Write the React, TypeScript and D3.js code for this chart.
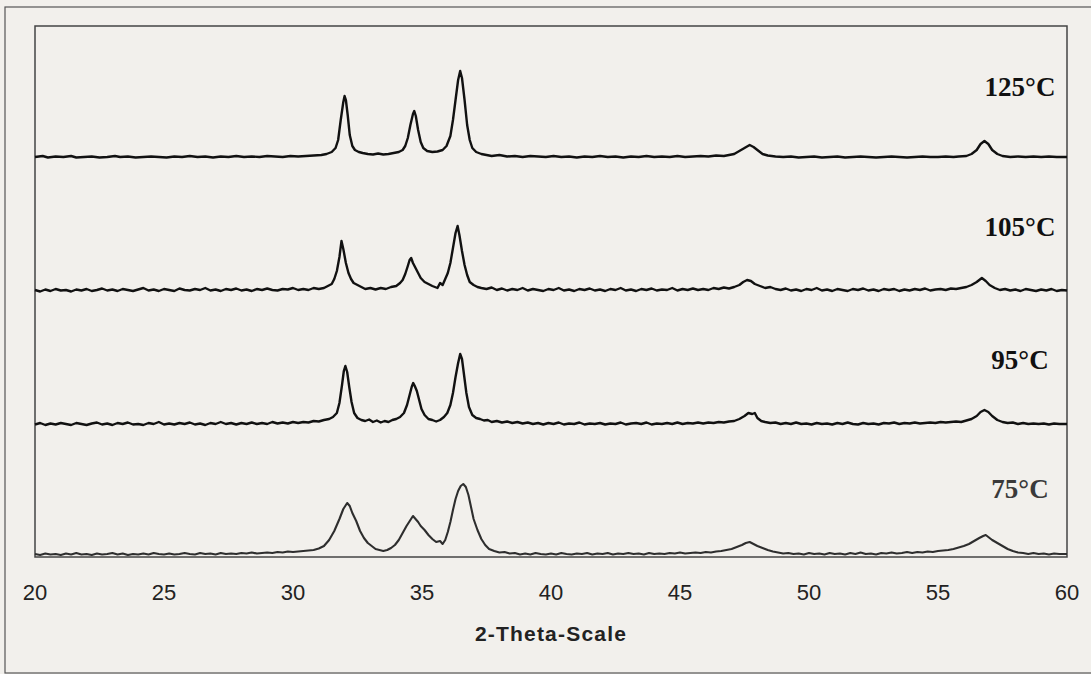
import * as d3 from 'd3';

// XRD patterns, [2-theta, intensity a.u.]
const ticks = [20, 25, 30, 35, 40, 45, 50, 55, 60];
const labels = ['125°C', '105°C', '95°C', '75°C'];
const offsets = [397, 264, 130, 0];

const s125: [number, number][] = [
  [20, 3], [20.3, 4], [20.5, 2.5], [20.8, 3.5], [21.1, 3], [21.4, 4], [21.6, 2.5], [21.9, 3], [22.2, 3.5], [22.5, 2.5],
  [22.8, 3], [23.1, 4], [23.3, 3], [23.6, 3.5], [23.9, 2.5], [24.2, 3], [24.5, 3.5], [24.8, 3], [25.1, 2.5], [25.4, 3.5],
  [25.7, 3], [26, 4], [26.3, 3], [26.6, 3.5], [26.9, 2.5], [27.2, 3.5], [27.5, 3], [27.8, 4], [28.1, 3], [28.4, 3.5],
  [28.7, 3], [29, 4], [29.3, 3.5], [29.6, 3], [29.9, 4], [30.2, 3.5], [30.5, 4], [30.8, 4.5], [31.1, 5], [31.3, 6],
  [31.5, 8], [31.65, 12], [31.75, 20], [31.85, 40], [31.95, 58], [32.0, 64], [32.05, 60], [32.12, 45], [32.2, 25], [32.3, 14],
  [32.4, 10], [32.55, 8], [32.7, 7], [32.9, 6], [33.1, 5.5], [33.3, 6.5], [33.5, 5.5], [33.7, 6], [33.9, 7], [34.1, 8],
  [34.25, 10], [34.35, 14], [34.45, 22], [34.55, 35], [34.65, 46], [34.7, 49], [34.76, 44], [34.85, 30], [34.95, 18], [35.05, 12],
  [35.2, 9], [35.4, 8], [35.6, 8.5], [35.8, 10], [35.95, 14], [36.1, 24], [36.2, 40], [36.3, 60], [36.4, 80], [36.48, 89],
  [36.55, 82], [36.65, 60], [36.75, 35], [36.85, 20], [36.95, 12], [37.1, 8], [37.3, 6], [37.5, 5], [37.7, 4], [38, 5],
  [38.3, 3.5], [38.6, 4], [38.9, 3], [39.2, 4], [39.5, 3.5], [39.8, 3], [40.1, 4], [40.4, 3], [40.7, 3.5], [41, 2.5],
  [41.3, 3.5], [41.6, 3], [41.9, 4], [42.2, 3], [42.5, 3.5], [42.8, 2.5], [43.1, 3.5], [43.4, 3], [43.7, 4], [44, 3],
  [44.3, 3.5], [44.6, 3], [44.9, 4], [45.2, 3], [45.5, 3.5], [45.8, 4], [46.1, 3.5], [46.4, 4.5], [46.7, 4], [46.9, 5],
  [47.1, 6], [47.3, 9], [47.5, 12], [47.7, 15], [47.85, 13], [48.0, 10], [48.2, 6], [48.4, 4.5], [48.7, 3.5], [49, 3],
  [49.3, 3.5], [49.6, 2.5], [49.9, 3], [50.2, 3.5], [50.5, 2.5], [50.8, 3], [51.1, 3.5], [51.4, 2.5], [51.7, 3], [52, 3.5],
  [52.3, 3], [52.6, 2.5], [52.9, 3], [53.2, 3.5], [53.5, 3], [53.8, 2.5], [54.1, 3], [54.4, 3.5], [54.7, 3], [55, 3],
  [55.3, 3.5], [55.6, 3], [55.8, 3.5], [56.1, 4], [56.3, 6], [56.5, 10], [56.65, 16], [56.8, 19], [56.95, 16], [57.1, 10],
  [57.3, 6], [57.5, 4], [57.8, 3], [58.1, 3.5], [58.4, 3], [58.7, 3.5], [59, 3], [59.3, 3.5], [59.6, 3], [60, 3],
];

const s105: [number, number][] = [
  [20, 3], [20.2, 1.5], [20.4, 3.5], [20.6, 2], [20.8, 4], [21, 2.5], [21.2, 3], [21.4, 1.5], [21.6, 3.5], [21.8, 2.5],
  [22, 4], [22.2, 2], [22.4, 3], [22.6, 4.5], [22.8, 2.5], [23, 3.5], [23.2, 2], [23.4, 4], [23.6, 3], [23.8, 2],
  [24, 3.5], [24.2, 5], [24.4, 2.5], [24.6, 3.5], [24.8, 2], [25, 4], [25.2, 3], [25.4, 2], [25.6, 4.5], [25.8, 3],
  [26, 2.5], [26.2, 4], [26.4, 3], [26.6, 5], [26.8, 2.5], [27, 3.5], [27.2, 2], [27.4, 4], [27.6, 3], [27.8, 4.5],
  [28, 2.5], [28.2, 3.5], [28.4, 2], [28.6, 4], [28.8, 3], [29, 4.5], [29.2, 3], [29.4, 2.5], [29.6, 4], [29.8, 3.5],
  [30, 5], [30.2, 3], [30.4, 4], [30.6, 3], [30.8, 5], [31, 4], [31.2, 5], [31.35, 7], [31.5, 9], [31.6, 14],
  [31.7, 22], [31.8, 36], [31.88, 52], [31.95, 44], [32.05, 30], [32.15, 20], [32.25, 14], [32.35, 10], [32.5, 8], [32.65, 6],
  [32.8, 4], [33, 5], [33.2, 3.5], [33.4, 5], [33.6, 4], [33.8, 6], [34, 7], [34.15, 10], [34.25, 13], [34.35, 19],
  [34.45, 27], [34.52, 33], [34.58, 35], [34.65, 30], [34.75, 25], [34.85, 20], [34.95, 15], [35.1, 11], [35.25, 9], [35.4, 7],
  [35.5, 6], [35.6, 5], [35.7, 10], [35.8, 8], [35.9, 14], [36, 20], [36.1, 30], [36.2, 45], [36.3, 60], [36.38, 67],
  [36.45, 58], [36.55, 42], [36.65, 28], [36.75, 18], [36.85, 11], [37, 8], [37.15, 6], [37.3, 5], [37.5, 4], [37.7, 5.5],
  [37.9, 3], [38.1, 4.5], [38.3, 2.5], [38.5, 4], [38.7, 3], [38.9, 5], [39.1, 2.5], [39.3, 4], [39.5, 3], [39.7, 2],
  [39.9, 4], [40.1, 3], [40.3, 5], [40.5, 2.5], [40.7, 3.5], [40.9, 2], [41.1, 4], [41.3, 3], [41.5, 4.5], [41.7, 2.5],
  [41.9, 3.5], [42.1, 2], [42.3, 4], [42.5, 3], [42.7, 5], [42.9, 2.5], [43.1, 3.5], [43.3, 2], [43.5, 4], [43.7, 3],
  [43.9, 4.5], [44.1, 2.5], [44.3, 3.5], [44.5, 3], [44.7, 5], [44.9, 2.5], [45.1, 4], [45.3, 3], [45.5, 4.5], [45.7, 3],
  [45.9, 4], [46.1, 3], [46.3, 5], [46.5, 4], [46.7, 5.5], [46.9, 4.5], [47.1, 6], [47.3, 8], [47.45, 11], [47.6, 13],
  [47.75, 12], [47.9, 9], [48.1, 7], [48.3, 5], [48.5, 6], [48.7, 4], [48.9, 3], [49.1, 4.5], [49.3, 2.5], [49.5, 3.5],
  [49.7, 2], [49.9, 4], [50.1, 3], [50.3, 5], [50.5, 2.5], [50.7, 3.5], [50.9, 2], [51.1, 4], [51.3, 3], [51.5, 2],
  [51.7, 4], [51.9, 3], [52.1, 4.5], [52.3, 2.5], [52.5, 3.5], [52.7, 2], [52.9, 4], [53.1, 3], [53.3, 4], [53.5, 2],
  [53.7, 3.5], [53.9, 2.5], [54.1, 4], [54.3, 3], [54.5, 4.5], [54.7, 2.5], [54.9, 3.5], [55.1, 4], [55.3, 3], [55.5, 4.5],
  [55.7, 4], [55.9, 5], [56.1, 6], [56.3, 8], [56.5, 11], [56.7, 15], [56.85, 12], [57, 8], [57.2, 5], [57.4, 3],
  [57.6, 4], [57.8, 2.5], [58, 3.5], [58.2, 2], [58.4, 4], [58.6, 3], [58.8, 2], [59, 3.5], [59.2, 2.5], [59.4, 4],
  [59.6, 2], [59.8, 3], [60, 2.5],
];

const s95: [number, number][] = [
  [20, 2.5], [20.2, 4], [20.4, 2], [20.6, 3.5], [20.8, 2.5], [21, 4], [21.2, 3], [21.4, 2], [21.6, 4], [21.8, 3],
  [22, 2], [22.2, 3.5], [22.4, 4.5], [22.6, 2.5], [22.8, 3.5], [23, 2], [23.2, 4], [23.4, 3], [23.6, 4.5], [23.8, 2.5],
  [24, 3], [24.2, 2], [24.4, 4], [24.6, 3], [24.8, 5], [25, 2.5], [25.2, 3.5], [25.4, 2.5], [25.6, 4], [25.8, 3],
  [26, 4.5], [26.2, 2.5], [26.4, 3.5], [26.6, 2], [26.8, 4], [27, 3], [27.2, 5], [27.4, 3], [27.6, 4], [27.8, 2.5],
  [28, 4], [28.2, 3], [28.4, 4.5], [28.6, 3], [28.8, 4], [29, 3], [29.2, 5], [29.4, 3.5], [29.6, 4.5], [29.8, 3.5],
  [30, 5], [30.2, 4], [30.4, 5], [30.6, 4.5], [30.8, 6], [31, 5.5], [31.2, 7], [31.4, 8], [31.55, 10], [31.7, 14],
  [31.8, 24], [31.9, 42], [31.97, 56], [32.03, 61], [32.1, 55], [32.18, 40], [32.27, 25], [32.37, 14], [32.5, 9], [32.65, 7],
  [32.8, 6], [32.95, 7.5], [33.1, 5], [33.25, 6.5], [33.4, 4.5], [33.55, 6], [33.7, 5], [33.85, 7], [34, 8], [34.15, 10],
  [34.3, 14], [34.42, 22], [34.52, 32], [34.6, 40], [34.66, 44], [34.72, 41], [34.8, 36], [34.88, 28], [34.98, 18], [35.1, 12],
  [35.25, 8], [35.4, 7], [35.55, 5.5], [35.7, 7], [35.85, 10], [35.98, 14], [36.1, 22], [36.2, 34], [36.3, 50], [36.4, 64],
  [36.48, 73], [36.55, 68], [36.63, 52], [36.72, 34], [36.82, 20], [36.95, 12], [37.1, 9], [37.25, 8], [37.4, 6.5], [37.55, 7],
  [37.7, 5], [37.9, 6], [38.1, 4.5], [38.3, 5.5], [38.5, 4], [38.7, 5], [38.9, 3.5], [39.1, 4.5], [39.3, 3], [39.5, 4],
  [39.7, 2.5], [39.9, 4], [40.1, 3], [40.3, 4.5], [40.5, 2.5], [40.7, 3.5], [40.9, 3], [41.1, 4.5], [41.3, 2.5], [41.5, 3.5],
  [41.7, 3], [41.9, 4], [42.1, 2.5], [42.3, 3.5], [42.5, 3], [42.7, 4.5], [42.9, 2.5], [43.1, 3.5], [43.3, 4], [43.5, 3],
  [43.7, 4.5], [43.9, 2.5], [44.1, 3.5], [44.3, 3], [44.5, 4], [44.7, 3], [44.9, 4.5], [45.1, 3], [45.3, 4], [45.5, 3.5],
  [45.7, 4.5], [45.9, 3.5], [46.1, 4.5], [46.3, 4], [46.5, 5], [46.7, 4.5], [46.9, 5.5], [47.1, 6], [47.3, 8], [47.5, 11],
  [47.65, 14], [47.8, 13], [47.9, 14], [48.0, 9], [48.15, 6], [48.3, 5], [48.5, 4], [48.7, 4.5], [48.9, 3], [49.1, 4],
  [49.3, 3], [49.5, 4.5], [49.7, 3], [49.9, 3.5], [50.1, 2.5], [50.3, 4], [50.5, 3], [50.7, 3.5], [50.9, 2.5], [51.1, 4],
  [51.3, 3], [51.5, 4.5], [51.7, 3], [51.9, 2.5], [52.1, 4], [52.3, 3], [52.5, 3.5], [52.7, 2.5], [52.9, 4], [53.1, 3.5],
  [53.3, 4.5], [53.5, 3], [53.7, 4], [53.9, 3.5], [54.1, 4.5], [54.3, 3.5], [54.5, 4], [54.7, 4.5], [54.9, 4], [55.1, 5],
  [55.3, 4.5], [55.5, 5], [55.7, 5.5], [55.9, 5], [56.1, 6.5], [56.3, 8], [56.5, 11], [56.65, 15], [56.8, 17], [56.95, 15],
  [57.1, 11], [57.3, 7], [57.5, 5], [57.7, 4], [57.9, 4.5], [58.1, 3], [58.3, 4], [58.5, 3], [58.7, 3.5], [58.9, 3],
  [59.1, 3.5], [59.3, 2.5], [59.5, 3.5], [59.7, 3], [60, 3],
];

const s75: [number, number][] = [
  [20, 3], [20.2, 2], [20.4, 3.5], [20.6, 2.5], [20.8, 3], [21, 2], [21.2, 3.5], [21.4, 2.5], [21.6, 4], [21.8, 2.5],
  [22, 3], [22.2, 2], [22.4, 3.5], [22.6, 2.5], [22.8, 3], [23, 4], [23.2, 2.5], [23.4, 3.5], [23.6, 2], [23.8, 3],
  [24, 2.5], [24.2, 3.5], [24.4, 2.5], [24.6, 4], [24.8, 3], [25, 2.5], [25.2, 3.5], [25.4, 2.5], [25.6, 3], [25.8, 4],
  [26, 3], [26.2, 2.5], [26.4, 4], [26.6, 3], [26.8, 3.5], [27, 2.5], [27.2, 4], [27.4, 3], [27.6, 3.5], [27.8, 3],
  [28, 4], [28.2, 3.5], [28.4, 4.5], [28.6, 3.5], [28.8, 4], [29, 4.5], [29.2, 4], [29.4, 5], [29.6, 4.5], [29.8, 5.5],
  [30, 5], [30.2, 5.5], [30.4, 6], [30.6, 6.5], [30.8, 7], [31, 8.5], [31.2, 11], [31.4, 17], [31.6, 26], [31.8, 38],
  [31.95, 48], [32.1, 54], [32.2, 51], [32.3, 44], [32.45, 36], [32.6, 26], [32.75, 19], [32.9, 14], [33.05, 11], [33.2, 8],
  [33.35, 7], [33.5, 6], [33.65, 7], [33.8, 9], [33.95, 12], [34.1, 17], [34.25, 24], [34.4, 31], [34.55, 37], [34.65, 41],
  [34.75, 38], [34.85, 35], [34.95, 31], [35.1, 27], [35.25, 22], [35.4, 18], [35.55, 15], [35.7, 16], [35.8, 13], [35.9, 17],
  [36.0, 25], [36.1, 35], [36.2, 47], [36.3, 58], [36.4, 66], [36.5, 71], [36.6, 73], [36.7, 70], [36.8, 62], [36.9, 50],
  [37.0, 38], [37.15, 27], [37.3, 18], [37.45, 12], [37.6, 8], [37.8, 6], [38, 4.5], [38.2, 5], [38.4, 3.5], [38.6, 4],
  [38.8, 2.5], [39, 3.5], [39.2, 2.5], [39.4, 4], [39.6, 3], [39.8, 2.5], [40, 3.5], [40.2, 2.5], [40.4, 4], [40.6, 3],
  [40.8, 2.5], [41, 3.5], [41.2, 3], [41.4, 4], [41.6, 2.5], [41.8, 3.5], [42, 3], [42.2, 4], [42.4, 2.5], [42.6, 3.5],
  [42.8, 3], [43, 4], [43.2, 3], [43.4, 3.5], [43.6, 2.5], [43.8, 4], [44, 3], [44.2, 3.5], [44.4, 3], [44.6, 4],
  [44.8, 3.5], [45, 4.5], [45.2, 3.5], [45.4, 4], [45.6, 4.5], [45.8, 4], [46, 5], [46.2, 4.5], [46.4, 5.5], [46.6, 6],
  [46.8, 7], [47, 8], [47.2, 10], [47.4, 12], [47.55, 14], [47.7, 15], [47.85, 13], [48, 11], [48.2, 9], [48.4, 7],
  [48.6, 5.5], [48.8, 4.5], [49, 3.5], [49.2, 4], [49.4, 3], [49.6, 3.5], [49.8, 2.5], [50, 4], [50.2, 3], [50.4, 3.5],
  [50.6, 2.5], [50.8, 4], [51, 3], [51.2, 3.5], [51.4, 2.5], [51.6, 4], [51.8, 3], [52, 4.5], [52.2, 3], [52.4, 3.5],
  [52.6, 2.5], [52.8, 4], [53, 3.5], [53.2, 4.5], [53.4, 3.5], [53.6, 4], [53.8, 5], [54, 4], [54.2, 5], [54.4, 4.5],
  [54.6, 5.5], [54.8, 5], [55, 6], [55.2, 6.5], [55.4, 7], [55.6, 8], [55.8, 9.5], [56, 11], [56.2, 13], [56.4, 16],
  [56.6, 19], [56.75, 21], [56.85, 22], [56.95, 20], [57.1, 17], [57.3, 14], [57.5, 11], [57.7, 8], [57.9, 6], [58.1, 4.5],
  [58.3, 4], [58.5, 3], [58.7, 4], [58.9, 3], [59.1, 3.5], [59.3, 2.5], [59.5, 3.5], [59.7, 3], [60, 3],
];

const series = [s125, s105, s95, s75];

export default function App() {
  const width = 1091;
  const height = 674;
  const left = 35;
  const right = 1067;
  const top = 26;
  const bottom = 557;

  const x = d3.scaleLinear([20, 60], [left, right]);
  const y = d3.scaleLinear([0, 531], [bottom, top]);

  const line = (off: number) =>
    d3
      .line<[number, number]>()
      .x((d) => x(d[0]))
      .y((d) => y(d[1] + off));

  const labelY = [y(offsets[0] + 64), y(offsets[1] + 57), y(offsets[2] + 58), y(offsets[3] + 59)];

  return (
    <svg width={width} height={height} style={{ position: 'absolute', left: 0, top: 0 }}>
      <rect x={0} y={0} width={width} height={height} fill="#f2f0ec" />
      {/* outer frame */}
      <rect x={5} y={7} width={width} height={666} fill="none" stroke="#555" strokeWidth={1.2} />
      {/* plot frame */}
      <rect x={left} y={top} width={right - left} height={bottom - top} fill="none" stroke="#444" strokeWidth={1.5} />

      {series.map((s, i) => (
        <path
          key={labels[i]}
          d={line(offsets[i])(s) ?? ''}
          fill="none"
          stroke={i === 3 ? '#2e2e2e' : '#111'}
          strokeWidth={i === 3 ? 2.1 : 2.4}
          strokeLinejoin="round"
        />
      ))}

      {labels.map((l, i) => (
        <text
          key={l}
          x={1020}
          y={labelY[i]}
          textAnchor="middle"
          fontFamily="'Liberation Serif', 'Times New Roman', serif"
          fontWeight="bold"
          fontSize={27}
          fill={i === 3 ? '#3a3a3a' : '#111'}
        >
          {l}
        </text>
      ))}

      {ticks.map((t) => (
        <text
          key={t}
          x={x(t)}
          y={600}
          textAnchor="middle"
          fontFamily="'Liberation Sans', Arial, sans-serif"
          fontSize={22}
          fill="#222"
        >
          {t}
        </text>
      ))}

      <text
        x={551}
        y={641}
        textAnchor="middle"
        fontFamily="'Liberation Sans', Arial, sans-serif"
        fontWeight="bold"
        fontSize={21}
        letterSpacing={1.2}
        fill="#222"
      >
        2-Theta-Scale
      </text>
    </svg>
  );
}
